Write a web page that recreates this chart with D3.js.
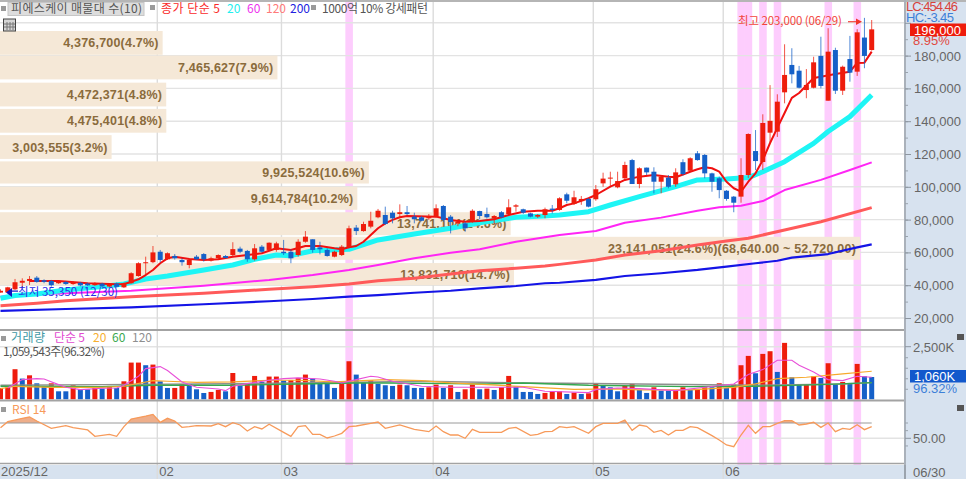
<!DOCTYPE html>
<html>
<head>
<meta charset="utf-8" />
<script src="https://cdn.jsdelivr.net/npm/d3@7/dist/d3.min.js"></script>
<style>
html, body { margin: 0; padding: 0; background: #fff; overflow: hidden; }
svg { display: block; }
text { font-family: "Noto Sans CJK KR", "Liberation Sans", sans-serif; }
.num { font-family: "Liberation Sans Narrow", "Liberation Sans", sans-serif; font-size: 13px; fill: #666; }
.vp { font-family: "Liberation Sans", sans-serif; font-size: 12.5px; font-weight: bold; fill: #8a6b3c; letter-spacing: .2px; }
.leg { font-size: 12px; }
</style>
</head>
<body>
<div id="chart"></div>
<script>
// prices in thousand won, one entry per trading day (12/29 .. 06/30)
var opens = [35.5,35.6,37.5,41.5,42.6,44.6,43,42.6,41.2,42,40.7,41.5,41,40,41,39.2,41,38.7,41.2,45.6,
  53.4,54,60.4,55.8,57.8,55.4,52.3,57.4,59,55,56.4,57.8,58.4,62.3,60.9,55.8,63.5,61.5,61.5,60.4,
  60.4,58.4,66.5,68,63.1,61.5,57.4,58.4,63.1,75.1,73,75.7,81.4,82.8,84.2,83.4,84.5,81.8,81.4,80.8,
  81.8,88.3,81.8,77.7,77.7,78.7,85.2,83.4,80.6,84.5,83.4,87.9,86.3,83.8,81.8,82.8,86.7,85.9,95.4,89.5,
  91.3,92.6,92.4,102.1,105,99.7,105.2,116.3,101.7,111.7,109.2,103.1,105.6,101.5,115,109.8,120.4,119.4,108.2,105.2,
  97.6,94,94,107.2,121.8,115.1,133,133.6,157.6,174.3,170.8,159,160.4,179.8,152.5,183.4,158.6,177.9,170.2,191,183.4];
var highs = [37.5,39,43.8,44.2,45.6,45.6,43.6,43.2,42.6,42.6,42.4,42,41.6,41.8,41.5,40.8,41.6,41.6,47.9,54,
  57.4,63.9,61.5,60,59,56.4,56.4,58.4,59.6,57.4,58.8,58.4,66.2,63.5,61.5,65.1,64.5,66.1,66.5,67.6,
  61.9,68,73,68,66.5,62.5,61,64.5,76.3,76.7,78.7,84.8,86.5,87.9,85.4,89.3,88.3,84.2,82.2,83.4,
  89.3,88.9,82.8,80,78.7,86.3,85.4,87.3,82.8,85.2,92.4,89.5,86.7,84.2,83.4,87.3,88.9,93.6,96.4,97.6,
  94.4,93.2,101.1,108.6,109.2,109.2,115.3,117,111.9,111.7,111.9,107.2,107.2,111.3,116.8,118,121.8,120,108.6,106.2,
  98,94.4,117.4,132.6,134.6,144.2,162,156.4,186.9,184.5,173.7,171.8,179.3,191.5,196.7,184.8,173.9,192,196.1,203,201.7];
var lows = [35.5,35.35,37.1,38.1,40.1,41.5,41.2,39.1,40.8,40.2,40.2,39.4,39.5,39.6,38.8,38.8,38.6,38.3,40.9,45.2,
  46.2,53.4,54,55.4,55.6,51.9,50.3,55.4,54.4,54.4,55.8,56.2,57.8,59.5,54.3,55,59.8,61.1,60.4,58.4,
  53.4,57.4,65.9,59.8,58.8,57.4,57,57.8,62.5,70.6,72.6,74.7,80.8,76.7,77.7,80.8,82.8,77.7,79,79.8,
  81.4,78.7,71.6,76,72.6,78.1,80.2,80.6,77.3,80.8,82.8,84.8,83.4,81.4,81,80.8,83.8,85.4,89.9,88.9,
  89,87.5,91.5,100,100.5,99.1,104.2,101.7,99.1,107.2,96,96,99.1,100,106.8,109.2,115.9,105.2,97,93,
  91.5,84.5,90.3,105.4,110.2,110.2,127.3,130.4,150.9,163.1,160,154,160,160,152.5,156.6,156,164.1,167.6,172.3,183];
var closes = [36.6,38.7,41.8,42.7,43.8,42,42,40,42.1,40.7,41.8,39.9,39.9,41.2,39.3,40.4,39,41.2,47.3,53.4,
  54,60,55.4,59.5,56.4,54,55.4,55.8,55.8,56.4,58.4,56.6,62,60.4,55.8,62.5,60.4,65.9,65.5,59.5,
  56.4,66.5,69.6,61.5,61.9,57.8,60.4,63.5,74.7,73,77.3,79.3,85.4,77.3,80.8,84.5,83.4,80.2,79.3,82.2,
  86.9,79.8,78.5,78.7,74.7,85.4,82.2,81.4,82.2,81.4,87.5,88.7,84.2,81.8,82.8,86.3,85.9,93,91.5,93.6,
  92.6,87.9,98.5,105,105.6,103.5,113.3,101.7,111.3,108.8,103.1,106.2,100,108.8,107.8,117.4,116.3,108.2,103.1,98,
  92.6,90.3,107.2,132.2,115.7,138.9,140.2,151.9,168.2,168.6,160.4,162.1,175.9,161.5,182.4,158.6,173.2,169.6,194.2,179.8,196];

// volume in thousand shares, volUp = 1 for the red bars
var volumes = [540,570,1430,985,1140,760,600,760,380,380,665,475,475,540,510,635,540,855,1745,1745,
  1620,1650,855,540,540,730,730,475,300,350,445,380,1250,635,730,1110,825,1080,1080,890,
  920,1015,1175,985,780,730,540,730,1809,1174,778,905,730,667,635,698,667,540,540,571,
  698,540,667,349,476,698,476,508,444,571,1111,603,349,349,254,302,381,381,254,317,
  254,286,730,635,571,381,635,730,444,302,571,413,413,444,571,444,444,571,571,762,
  540,698,1619,2063,1238,2158,2285,1301,2682,1047,698,698,1095,1016,1714,730,825,778,1682,1095,1060];
var volUp = [1,1,1,0,1,0,0,1,0,0,1,0,0,1,0,1,0,1,1,1,0,1,0,0,1,1,0,0,0,1,1,0,1,0,1,1,0,1,1,0,1,1,1,0,0,
  0,0,1,1,0,0,1,0,0,0,1,0,0,0,1,1,0,1,0,1,1,0,1,0,1,1,0,0,0,0,1,1,1,0,1,0,1,1,0,0,0,1,1,0,
  0,1,0,0,1,1,0,1,1,0,1,0,1,1,1,0,1,1,0,1,0,0,1,1,0,1,0,1,0,1,0,0];

// moving averages: [bar index, value]
var ma5 = [[4,42.6],[8,42.6],[12,41.2],[16,40.6],[17,40.7],[18,42],[19,43.6],[20,46.2],[21,49.3],[22,53.4],[23,56.4],[24,57.4],[26,56],[28,55.4],[30,55.8],[32,57.4],[34,58.4],[36,59.5],[38,62.5],[40,61.5],[42,63.9],[44,63.9],[46,62.5],[47,61.9],[48,63.1],[49,63.9],[50,66.5],[51,70.6],[52,74.7],[53,77.7],[54,79.8],[55,81.4],[56,82.2],[60,81.8],[61,80.8],[62,79.8],[64,78.7],[66,79.2],[68,80.2],[70,82.8],[72,84.8],[74,85.4],[76,85.4],[77,86.9],[78,88.9],[79,89.9],[81,93],[82,95],[84,100.1],[85,102.1],[86,104.2],[88,106.2],[90,107.2],[92,106.2],[93,105.8],[95,109.2],[96,110.7],[97,111.9],[98,111.3],[99,109.2],[100,103.1],[101,99.1],[102,97],[103,103.1],[104,108.2],[105,116.3],[106,126.7],[107,135.9],[108,145],[109,154.2],[110,157.2],[112,166.3],[113,167.1],[115,168.8],[117,170.2],[118,175.5],[119,175.7],[120,182.4]];
var ma20 = [[0,32],[2,33.7],[5,34.6],[9,37.1],[14,39.2],[17,40.7],[20,43.8],[23,45.6],[28,49.3],[32,52.3],[35,55.8],[38,58.4],[40,58],[43,61],[48,61.9],[52,67.6],[57,71.2],[62,74.7],[66,78.1],[71,81.4],[75,82.2],[77,82.8],[81,84.8],[84,88.9],[88,94],[93,100.1],[96,104.2],[100,104.8],[103,105.6],[105,109.2],[108,115.3],[112,126.5],[114,133.7],[117,142.8],[120,156]];
var ma60 = [[0,33],[5,34.6],[9,35.1],[18,36.6],[28,39.7],[37,43.2],[43,46.2],[48,49.3],[52,52.3],[57,56.4],[62,59.8],[66,61.9],[71,66.5],[75,69.2],[77,70.6],[82,73],[86,78.1],[91,81.2],[96,85.4],[99,87.5],[102,88.5],[105,91.3],[108,98],[113,104.2],[117,110.2],[120,114.9]];
var ma120 = [[0,27.5],[5,29],[9,30.5],[18,33],[28,35.1],[37,37.5],[43,39.1],[48,40.7],[52,42.7],[57,44.2],[62,46.8],[66,48.8],[71,50.3],[75,51.7],[77,52.7],[82,55.4],[86,58.4],[91,61],[96,64.5],[100,67],[103,68.6],[108,73.7],[113,78.7],[120,87.3]];
var ma200 = [[0,24.3],[9,25.5],[18,26.5],[28,28.4],[37,30.2],[43,31.6],[48,33],[52,34],[57,35.4],[62,36.6],[66,38.1],[71,39.5],[75,41.2],[77,41.5],[82,43.2],[86,45.6],[91,47.3],[96,49.3],[100,51.3],[104,53.4],[107,54.9],[109,56.8],[114,59],[118,63.1],[120,64.9]];

var volMa5 = [[1,540],[3,936],[5,984],[6,968],[8,698],[9,571],[11,460],[14,524],[16,540],[17,667],[19,1095],[20,1460],[22,1555],[23,1365],[25,825],[27,571],[30,492],[31,413],[32,619],[34,746],[37,905],[39,984],[41,1016],[44,968],[46,857],[47,778],[49,936],[51,1095],[52,1063],[54,857],[58,619],[62,571],[67,571],[72,571],[75,381],[81,317],[82,460],[85,540],[88,508],[93,413],[97,571],[101,730],[103,1174],[105,1412],[107,1857],[109,1857],[110,1619],[112,1301],[113,1095],[114,936],[116,889],[118,1095],[120,1047]];
var volMa20 = [[0,508],[2,619],[7,571],[14,571],[17,619],[21,889],[23,857],[27,809],[32,825],[37,905],[41,905],[46,825],[53,936],[58,889],[62,778],[67,698],[72,603],[79,476],[85,492],[88,444],[95,444],[101,571],[104,730],[107,984],[111,1047],[116,1206],[120,1333]];
var volMa60 = [[0,619],[14,603],[21,667],[32,667],[41,730],[49,778],[53,778],[62,746],[67,730],[72,778],[81,667],[95,603],[104,619],[113,698],[120,794]];
var volMa120 = [[0,667],[14,698],[27,730],[41,778],[49,809],[58,857],[72,778],[78,762],[104,667],[116,730],[120,794]];

var rsi = [[0,63.9],[1,71.7],[3,76.1],[4,77.8],[5,72.6],[7,63],[9,66.5],[10,63.9],[12,60.9],[13,52.6],[15,55.2],[16,52.6],[17,65.2],[18,75.2],[20,79.1],[21,81.3],[22,70.9],[23,76.1],[24,72.6],[25,64.3],[26,65.2],[27,66.5],[29,66.1],[30,69.1],[31,65.2],[32,70.4],[33,67.4],[34,59.6],[35,65.2],[36,62.2],[37,68.3],[39,57.8],[40,52.6],[41,65.2],[42,66.5],[43,55.2],
  [44,55.2],[45,50.4],[46,53],[47,56.5],[48,65.2],[49,66.1],[51,69.6],[52,71.3],[53,63],[55,67.4],[57,61.7],[59,58.7],[60,66.1],[61,58.7],[62,54.3],[63,54.3],[64,50],[65,61.7],[66,57.8],[69,57.8],[70,63],[71,64.3],[73,53.9],[74,55.2],[75,58.7],[76,59.1],[77,65.2],[78,63.9],[79,65.2],[81,56.5],[82,65.2],[83,69.6],[85,69.6],[86,73.9],[87,60.4],[88,67.4],
  [89,65.7],[90,57.8],[91,60.4],[92,54.3],[93,60.4],[94,60.4],[95,65.2],[96,63.9],[98,53.5],[99,47.8],[100,41.3],[101,39.1],[102,54.3],[103,67],[104,56.5],[105,65.2],[106,65.2],[107,69.6],[108,73],[109,73],[110,67.4],[111,68.7],[112,70.9],[113,64.3],[114,70],[115,58.7],[116,63],[117,61.7],[118,67.8],[119,61.3],[120,65.2]];

// 1000억 10% strong pattern days, as bar indexes
var signalBars = [48,102,103,105,107,114,118];

// price volume rows: top and bottom price of each row, label
var vpTop = [195,180,163.5,147.5,131.5,115.5,100,84.5,69.5,53.5];
var vpBot = [180.5,165.5,149,133,117,102,86,70.5,55.5,40];
var vpVol = [4376700,7465627,4472371,4475401,3003555,9925524,9614784,13741104,23141051,13831710];
var vpPct = ["4.7","7.9","4.8","4.8","3.2","10.6","10.2","14.6","24.6","14.7"];
var vpExtra = ["","","","","","","","","(68,640.00 ~ 52,720.00)",""];

var priceTicks = [20,40,60,80,100,120,140,160,180];
var monthAt = [21.6,38.7,59.6,81.65,99.55];
var monthLabels = ["02","03","04","05","06"];

var W = 966, H = 479, plotR = 905, barStep = 7.26;
var cRed = "#ee1c0c", cBlue = "#1560c8", cGrid = "#e3e3e3", cPanel = "#d7e2ef", cSep = "#a3a3a3";

var x = d3.scaleLinear().domain([0,120]).range([0.5,871.7]);
var yP = d3.scaleLinear().domain([20,200]).range([318,22.8]);
var yV = d3.scaleLinear().domain([0,2500]).range([399.3,346.7]);
var yR = d3.scaleLinear().domain([50,70]).range([438.3,423]);
var vpX = d3.scaleLinear().domain([0,23141051]).range([0,860]);

var svg = d3.select("#chart").append("svg").attr("width",W).attr("height",H);
svg.append("rect").attr("width",W).attr("height",H).attr("fill","#fff");

// right and bottom panels
svg.append("rect").attr("x",plotR).attr("y",0).attr("width",W-plotR).attr("height",H).attr("fill",cPanel);
svg.append("rect").attr("x",0).attr("y",465).attr("width",W).attr("height",H-465).attr("fill",cPanel);

// pink signal days
svg.selectAll("rect.signal").data(signalBars).enter().append("rect")
  .attr("class","signal")
  .attr("x",function(d){return x(d)-barStep/2;}).attr("y",2)
  .attr("width",barStep+0.3).attr("height",463).attr("fill","#fdcdfd");

// grid
function hgrid(y){ svg.append("line").attr("x1",0).attr("x2",plotR).attr("y1",y).attr("y2",y).attr("stroke",cGrid).attr("stroke-width",1.4); }
priceTicks.concat([200]).forEach(function(v){ hgrid(yP(v)); });
hgrid(yV(2500));
hgrid(yR(50));
svg.selectAll("line.month").data(monthAt).enter().append("line")
  .attr("class","month")
  .attr("x1",function(d){return x(d);}).attr("x2",function(d){return x(d);})
  .attr("y1",2).attr("y2",479).attr("stroke","#dcdcdc").attr("stroke-width",1.4);

// price volume rows
var vpG = svg.append("g");
vpVol.forEach(function(v,i){
  vpG.append("rect").attr("x",0).attr("y",yP(vpTop[i])).attr("width",vpX(v))
    .attr("height",yP(vpBot[i])-yP(vpTop[i])).attr("fill","#f5e8d7");
  var t = vpG.append("text").attr("class","vp").attr("x",vpX(v)-4)
    .attr("y",(yP(vpTop[i])+yP(vpBot[i]))/2+4.5).attr("text-anchor","end")
    .text(d3.format(",")(v)+"("+vpPct[i]+"%)"+vpExtra[i]);
});

// moving averages
var line = d3.line().x(function(d){return x(d[0]);}).y(function(d){return yP(d[1]);});
[[ma200,"#1414e6",2.2],[ma120,"#ff5a5a",3],[ma60,"#ff25f5",2],[ma20,"#1ef5f5",5],[ma5,"#f01010",2]].forEach(function(s){
  svg.append("path").datum(s[0]).attr("d",line).attr("fill","none").attr("stroke",s[1]).attr("stroke-width",s[2]).attr("stroke-linejoin","round");
});

// candles
var candle = svg.selectAll("g.candle").data(opens).enter().append("g").attr("class","candle");
function col(i){ return closes[i]>=opens[i] ? cRed : cBlue; }
candle.append("line")
  .attr("x1",function(d,i){return x(i);}).attr("x2",function(d,i){return x(i);})
  .attr("y1",function(d,i){return yP(highs[i]);}).attr("y2",function(d,i){return yP(lows[i]);})
  .attr("stroke",function(d,i){return col(i);}).attr("stroke-opacity",.75);
candle.append("rect")
  .attr("x",function(d,i){return x(i)-2.5;}).attr("width",5)
  .attr("y",function(d,i){return yP(Math.max(opens[i],closes[i]));})
  .attr("height",function(d,i){return Math.max(1,Math.abs(yP(opens[i])-yP(closes[i])));})
  .attr("fill",function(d,i){return col(i);});

// high / low notes
svg.append("text").attr("x",738).attr("y",25).attr("font-size",11.5).attr("fill","#f2453c").attr("textLength",104).text("최고 203,000 (06/29)");
svg.append("line").attr("x1",848).attr("x2",860).attr("y1",21.7).attr("y2",21.7).attr("stroke","#f2453c").attr("stroke-width",1.2);
svg.append("path").attr("d","M862,21.7 L856,18.5 L856,24.9 Z").attr("fill","#f2332c");
svg.append("path").attr("d","M6,292.5 L12,288 L12,297 Z").attr("fill","#1010c0");
svg.append("rect").attr("x",11).attr("y",290.5).attr("width",7).attr("height",1.2).attr("fill","#1010c0");
svg.append("text").attr("x",18).attr("y",296).attr("font-size",11.5).attr("fill","#2a2ae8").attr("textLength",100).text("최저 35,350 (12/30)");

// volume panel
svg.selectAll("rect.vol").data(volumes).enter().append("rect")
  .attr("class","vol")
  .attr("x",function(d,i){return x(i)-2.5;}).attr("width",5)
  .attr("y",function(d){return yV(d);})
  .attr("height",function(d){return yV(0)-yV(d);})
  .attr("fill",function(d,i){return volUp[i] ? cRed : cBlue;});
var vline = d3.line().x(function(d){return x(d[0]);}).y(function(d){return yV(d[1]);});
[[volMa120,"#8f8f8f",1.4],[volMa60,"#35a84f",1.4],[volMa20,"#f7a92c",1.2],[volMa5,"#e850d8",1.1]].forEach(function(s){
  svg.append("path").datum(s[0]).attr("d",vline).attr("fill","none").attr("stroke",s[1]).attr("stroke-width",s[2]);
});

// rsi panel
svg.append("clipPath").attr("id","over70").append("rect").attr("x",0).attr("y",400).attr("width",plotR).attr("height",yR(70)-400);
var rline = d3.line().x(function(d){return x(d[0]);}).y(function(d){return yR(d[1]);});
var rarea = d3.area().x(function(d){return x(d[0]);}).y0(yR(70)).y1(function(d){return yR(d[1]);});
svg.append("path").datum(rsi).attr("d",rarea).attr("fill","#eeae8a").attr("clip-path","url(#over70)");
svg.append("line").attr("x1",0).attr("x2",x(120)).attr("y1",yR(70)).attr("y2",yR(70)).attr("stroke","#9a9a9a").attr("stroke-width",1);
svg.append("path").datum(rsi).attr("d",rline).attr("fill","none").attr("stroke","#f79a5a").attr("stroke-width",1.3);

// panel separators
[[330,2],[400.5,2],[463.5,1.5]].forEach(function(s){
  svg.append("line").attr("x1",0).attr("x2",plotR).attr("y1",s[0]).attr("y2",s[0]).attr("stroke",cSep).attr("stroke-width",s[1]);
});
svg.append("line").attr("x1",0).attr("x2",W).attr("y1",1).attr("y2",1).attr("stroke","#b5b5b5").attr("stroke-width",2);
svg.append("line").attr("x1",plotR).attr("x2",plotR).attr("y1",0).attr("y2",H).attr("stroke","#aab1ba").attr("stroke-width",2);

// right axes, minor ticks first
var axisG = svg.append("g");
axisG.append("g").attr("transform","translate("+plotR+",0)")
  .call(d3.axisRight(yP).tickValues(d3.range(20,200,10)).tickSize(3).tickFormat(""))
  .call(function(g){ g.select(".domain").remove(); g.selectAll("line").attr("stroke","#9aa3ad"); });
axisG.append("g").attr("transform","translate("+plotR+",0)")
  .call(d3.axisRight(yP).tickValues(priceTicks.concat([200])).tickSize(6).tickFormat(""))
  .call(function(g){ g.select(".domain").remove(); g.selectAll("line").attr("stroke","#8d96a0"); });
priceTicks.forEach(function(v){
  axisG.append("text").attr("class","num").attr("x",914).attr("y",yP(v)+5).text(d3.format(",")(v*1000));
});
axisG.append("g").attr("transform","translate("+plotR+",0)")
  .call(d3.axisRight(yV).tickValues([500,1000,1500,2000]).tickSize(3).tickFormat(""))
  .call(function(g){ g.select(".domain").remove(); g.selectAll("line").attr("stroke","#9aa3ad"); });
axisG.append("line").attr("x1",plotR).attr("x2",plotR+6).attr("y1",yV(2500)).attr("y2",yV(2500)).attr("stroke","#8d96a0");
axisG.append("line").attr("x1",plotR).attr("x2",plotR+6).attr("y1",yR(50)).attr("y2",yR(50)).attr("stroke","#8d96a0");
[60,70,40].forEach(function(v){
  axisG.append("line").attr("x1",plotR).attr("x2",plotR+3).attr("y1",yR(v)).attr("y2",yR(v)).attr("stroke","#9aa3ad");
});
axisG.append("text").attr("class","num").attr("x",913).attr("y",yV(2500)+5).text("2,500K");
axisG.append("text").attr("class","num").attr("x",913).attr("y",yR(50)+5).text("50.00");

// right side value boxes
svg.append("text").attr("class","num").attr("x",906).attr("y",11).attr("textLength",52).attr("style","fill:#d8433b").text("LC:454.46");
svg.append("text").attr("class","num").attr("x",906).attr("y",22).attr("textLength",48).attr("style","fill:#3d80d8").text("HC:-3.45");
svg.append("rect").attr("x",910).attr("y",23.5).attr("width",56).attr("height",12.5).attr("fill",cRed);
svg.append("text").attr("class","num").attr("x",914).attr("y",34.5).attr("style","fill:#fff").text("196,000");
svg.append("text").attr("class","num").attr("x",913).attr("y",44.5).attr("style","fill:#e04a42").text("8.95%");
svg.append("rect").attr("x",910).attr("y",370).attr("width",56).attr("height",12.5).attr("fill","#1258cc");
svg.append("text").attr("class","num").attr("x",914).attr("y",381).attr("style","fill:#fff").text("1,060K");
svg.append("text").attr("class","num").attr("x",913).attr("y",392.5).attr("style","fill:#3d80d8").text("96.32%");
[334,405].forEach(function(y){
  svg.append("rect").attr("x",957).attr("y",y).attr("width",7).attr("height",6).attr("fill","#555");
});

// bottom axis labels
svg.append("text").attr("class","num").attr("x",1).attr("y",476).text("2025/12");
monthAt.forEach(function(m,i){
  svg.append("text").attr("class","num").attr("x",x(m)+2).attr("y",476).text(monthLabels[i]);
});
svg.append("line").attr("x1",plotR).attr("x2",plotR).attr("y1",465).attr("y2",H).attr("stroke","#8d96a0");
svg.append("text").attr("class","num").attr("x",913).attr("y",477).text("06/30");

// legends
function leg(xp,yp,t,c,len,size){
  var n = svg.append("text").attr("class","leg").attr("x",xp).attr("y",yp).attr("fill",c).attr("font-size",size||12).text(t);
  if(len) n.attr("textLength",len);
}
function dot(xp,yp){ svg.append("rect").attr("x",xp).attr("y",yp).attr("width",5).attr("height",5).attr("fill","#9a9a9a"); }
dot(1,6); dot(150,5); dot(311,5);
svg.append("rect").attr("x",8).attr("y",2.5).attr("width",136).attr("height",13).attr("fill","#ddd").attr("stroke","#c6c6c6");
leg(11,13,"피에스케이 매물대 수(10)","#555",131);
leg(161,13,"종가 단순 5","#fa2a2a",59);
leg(227,13,"20","#22eeee");
leg(247,13,"60","#ee33ee");
leg(266,13,"120","#ff7a7a");
leg(290,13,"200","#2222e0");
leg(322,13,"1000억 10% 강세패턴","#555",106,11.5);
var ic = svg.append("g");
ic.append("rect").attr("x",3.5).attr("y",19).attr("width",12).attr("height",12).attr("fill","#d5d5d5").attr("stroke","#444");
[7,10,13].forEach(function(v){ ic.append("line").attr("x1",v).attr("x2",v).attr("y1",22).attr("y2",30).attr("stroke","#777"); });
[24,27].forEach(function(v){ ic.append("line").attr("x1",4).attr("x2",15).attr("y1",v).attr("y2",v).attr("stroke","#777"); });

dot(1,336);
leg(11,342,"거래량","#3f9aa5",34,11.5);
leg(54,342,"단순 5","#e24ad0",31,11.5);
leg(93,342,"20","#f7b030",null,11.5);
leg(112,342,"60","#3aa84f",null,11.5);
leg(132,342,"120","#8f8f8f",null,11.5);
leg(3,356,"1,059,543주(96.32%)","#555",102,11);
dot(1,407);
leg(12,414,"RSI 14","#f79a5a");
</script>
</body>
</html>
